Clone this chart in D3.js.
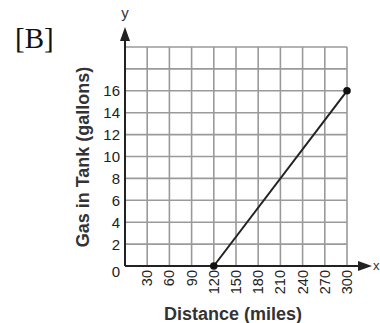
<!DOCTYPE html>
<html><head><meta charset="utf-8">
<script src="https://cdn.jsdelivr.net/npm/d3@7"></script>
<style>html,body{margin:0;padding:0;background:#fff;}svg{display:block;}</style>
</head><body>
<script>
const label = "[B]";
const xTitle = "Distance (miles)";
const yTitle = "Gas in Tank (gallons)";
const xTicks = [30, 60, 90, 120, 150, 180, 210, 240, 270, 300];
const yTicks = [0, 2, 4, 6, 8, 10, 12, 14, 16];
const xGrid = [0, 30, 60, 90, 120, 150, 180, 210, 240, 270, 300];
const yGrid = [0, 2, 4, 6, 8, 10, 12, 14, 16, 18, 20];
const distance = [120, 300];
const gas = [0, 16];

const W = 380, H = 323;
const svg = d3.select("body").append("svg").attr("width", W).attr("height", H);
const x = d3.scaleLinear().domain([0, 300]).range([125, 347]);
const y = d3.scaleLinear().domain([0, 20]).range([266, 47]);
const font = "'Liberation Sans', Arial, sans-serif";

// grid
const g = svg.append("g");
g.selectAll(".vx").data(xGrid.slice(1)).join("line")
  .attr("x1", d => x(d)).attr("x2", d => x(d)).attr("y1", y(0)).attr("y2", y(20))
  .attr("stroke", "#9a9a9a").attr("stroke-width", 1.6);
g.selectAll(".hy").data(yGrid.slice(1)).join("line")
  .attr("x1", x(0)).attr("x2", x(300)).attr("y1", d => y(d)).attr("y2", d => y(d))
  .attr("stroke", "#9a9a9a").attr("stroke-width", 1.6);

// axes
const axisColor = "#222";
svg.append("line").attr("x1", x(0)).attr("x2", 360).attr("y1", y(0)).attr("y2", y(0))
  .attr("stroke", axisColor).attr("stroke-width", 2);
svg.append("line").attr("x1", x(0)).attr("x2", x(0)).attr("y1", y(0)).attr("y2", 38)
  .attr("stroke", axisColor).attr("stroke-width", 2);
// arrowheads
svg.append("path").attr("d", `M${x(0)},27 L${x(0)-5},41 L${x(0)+5},41 Z`).attr("fill", axisColor);
svg.append("path").attr("d", `M372,${y(0)} L358,${y(0)-5} L358,${y(0)+5} Z`).attr("fill", axisColor);
svg.append("text").attr("x", x(0)).attr("y", 18).attr("text-anchor", "middle")
  .attr("font-family", font).attr("font-size", 15).attr("fill", "#333").text("y");
svg.append("text").attr("x", 373).attr("y", y(0) + 4).attr("text-anchor", "start")
  .attr("font-family", font).attr("font-size", 13).attr("fill", "#333").text("x");

// y tick labels
svg.selectAll(".yt").data(yTicks).join("text")
  .attr("x", 120).attr("y", d => d === 0 ? y(0) + 11 : y(d) + 5.5)
  .attr("text-anchor", "end").attr("font-family", font).attr("font-size", 15)
  .attr("fill", "#222").text(d => d);

// x tick labels (rotated)
svg.selectAll(".xt").data(xTicks).join("text")
  .attr("transform", d => `translate(${x(d) + 5},270) rotate(-90)`)
  .attr("text-anchor", "end").attr("font-family", font).attr("font-size", 14.5)
  .attr("fill", "#222").text(d => d);

// titles
svg.append("text").attr("x", 233).attr("y", 320).attr("text-anchor", "middle")
  .attr("font-family", font).attr("font-size", 18).attr("font-weight", "bold")
  .attr("fill", "#333").text(xTitle);
svg.append("text").attr("transform", "translate(89,157) rotate(-90)").attr("text-anchor", "middle")
  .attr("font-family", font).attr("font-size", 18).attr("font-weight", "bold")
  .attr("fill", "#333").text(yTitle);

// panel label
svg.append("text").attr("x", 15).attr("y", 48)
  .attr("font-family", "'Liberation Serif', 'Times New Roman', serif").attr("font-size", 29)
  .attr("fill", "#111").text(label);

// data line and points
const pts = distance.map((d, i) => [d, gas[i]]);
svg.append("path").datum(pts)
  .attr("d", d3.line().x(d => x(d[0])).y(d => y(d[1])))
  .attr("fill", "none").attr("stroke", "#222").attr("stroke-width", 2);
svg.selectAll(".pt").data(pts).join("circle")
  .attr("cx", d => x(d[0])).attr("cy", d => y(d[1])).attr("r", 3.8).attr("fill", "#111");
</script>
</body></html>
